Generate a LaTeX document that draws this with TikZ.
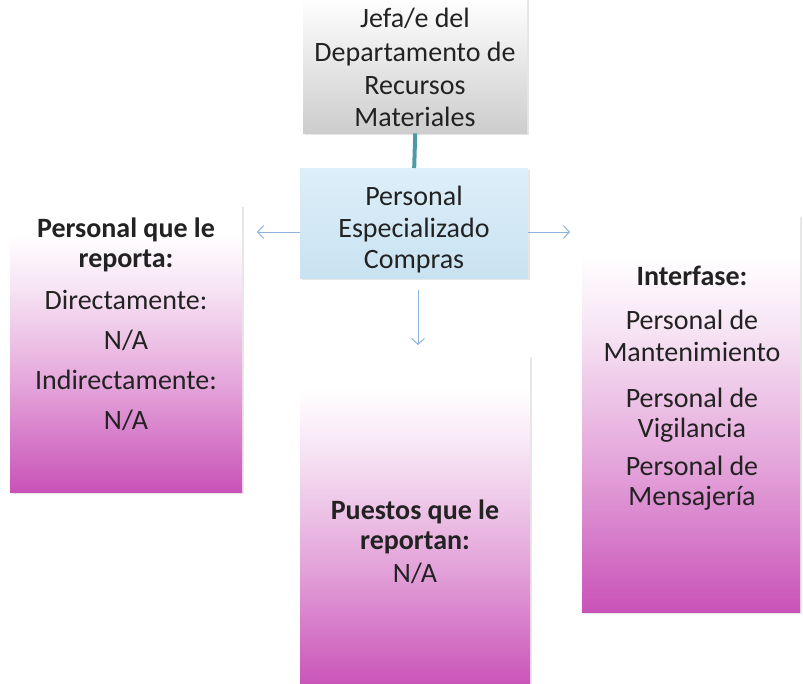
\documentclass[tikz,border=0pt]{standalone}
\usepackage{fontspec}
\setmainfont{Carlito}
\usetikzlibrary{shadows,arrows.meta}
\definecolor{pinkdark}{HTML}{C952B8}
\definecolor{pinkmid}{HTML}{E3A2D9}
\definecolor{pinklight}{HTML}{F6E2F3}
\definecolor{bluetop}{HTML}{DDEFF9}
\definecolor{bluebot}{HTML}{C9E2F1}
\definecolor{graybot}{HTML}{CDCDCD}
\definecolor{linkteal}{HTML}{4E9AA9}
\definecolor{arrowblue}{HTML}{8DB3DD}
\definecolor{txt}{HTML}{222222}
\pgfdeclareverticalshading{pinkshade}{100bp}{color(0bp)=(pinkdark); color(25bp)=(pinkdark); color(43bp)=(pinkmid); color(60bp)=(pinklight); color(70bp)=(white); color(100bp)=(white)}
\tikzset{
  box/.style={rectangle, inner sep=0pt, anchor=north west, drop shadow={shadow xshift=1.5pt, shadow yshift=-2pt, opacity=0.2}},
  pinkbox/.style={box, shading=pinkshade},
  graybox/.style={box, top color=white, bottom color=graybot},
  bluebox/.style={box, top color=bluetop, bottom color=bluebot},
  tl/.style={anchor=base, text=txt, inner sep=0pt, font=\fontsize{28}{32}\selectfont},
  tlb/.style={tl, font=\fontsize{28}{32}\selectfont\bfseries},
  arr/.style={draw=arrowblue, line width=1pt, -{Straight Barb[length=6pt, width=13pt]}},
  link/.style={draw=linkteal, line width=4pt}
}
\begin{document}
\begin{tikzpicture}[x=1pt, y=-1pt]
\useasboundingbox (0,0) rectangle (803,683);
% boxes
\node[graybox, minimum width=224pt, minimum height=136pt] (jefe) at (303,-3) {};
\node[bluebox, minimum width=228pt, minimum height=110pt] (pers) at (300,168) {};
\node[pinkbox, minimum width=232pt, minimum height=287pt] (left) at (10,205) {};
\node[pinkbox, minimum width=230pt, minimum height=333pt] (mid) at (300,355) {};
\node[pinkbox, minimum width=218pt, minimum height=397pt] (right) at (582,215) {};
% connectors
\draw[link] (jefe.south) -- (pers.north);
\coordinate (lt) at (257,232);
\coordinate (rt) at (570,232);
\coordinate (dt) at (418,345);
\draw[arr] (pers.west |- lt) -- (lt);
\draw[arr] (pers.east |- rt) -- (rt);
\draw[arr] (418,290) -- (dt);
% top box text
\node[tl] (j1) at (415,27) {Jefa/e del};
\node[tl] (j2) at (415,61) {Departamento de};
\node[tl] (j3) at (415,94) {Recursos};
\node[tl] (j4) at (415,126) {Materiales};
% blue box text
\node[tl] (p1) at (414,205) {Personal};
\node[tl] (p2) at (414,237) {Especializado};
\node[tl] (p3) at (414,268) {Compras};
% left box text
\node[tlb] (l1) at (126,237) {Personal que le};
\node[tlb] (l2) at (126,267) {reporta:};
\node[tl] (l3) at (126,309) {Directamente:};
\node[tl] (l4) at (126,349) {N/A};
\node[tl] (l5) at (126,389) {Indirectamente:};
\node[tl] (l6) at (126,429) {N/A};
% middle box text
\node[tlb] (m1) at (415,519) {Puestos que le};
\node[tlb] (m2) at (415,549) {reportan:};
\node[tl] (m3) at (415,582) {N/A};
% right box text
\node[tlb] (r1) at (692,285) {Interfase:};
\node[tl] (r2) at (692,329) {Personal de};
\node[tl] (r3) at (692,361) {Mantenimiento};
\node[tl] (r4) at (692,407) {Personal de};
\node[tl] (r5) at (692,437) {Vigilancia};
\node[tl] (r6) at (692,475) {Personal de};
\node[tl] (r7) at (692,505) {Mensajería};
\end{tikzpicture}
\end{document}
